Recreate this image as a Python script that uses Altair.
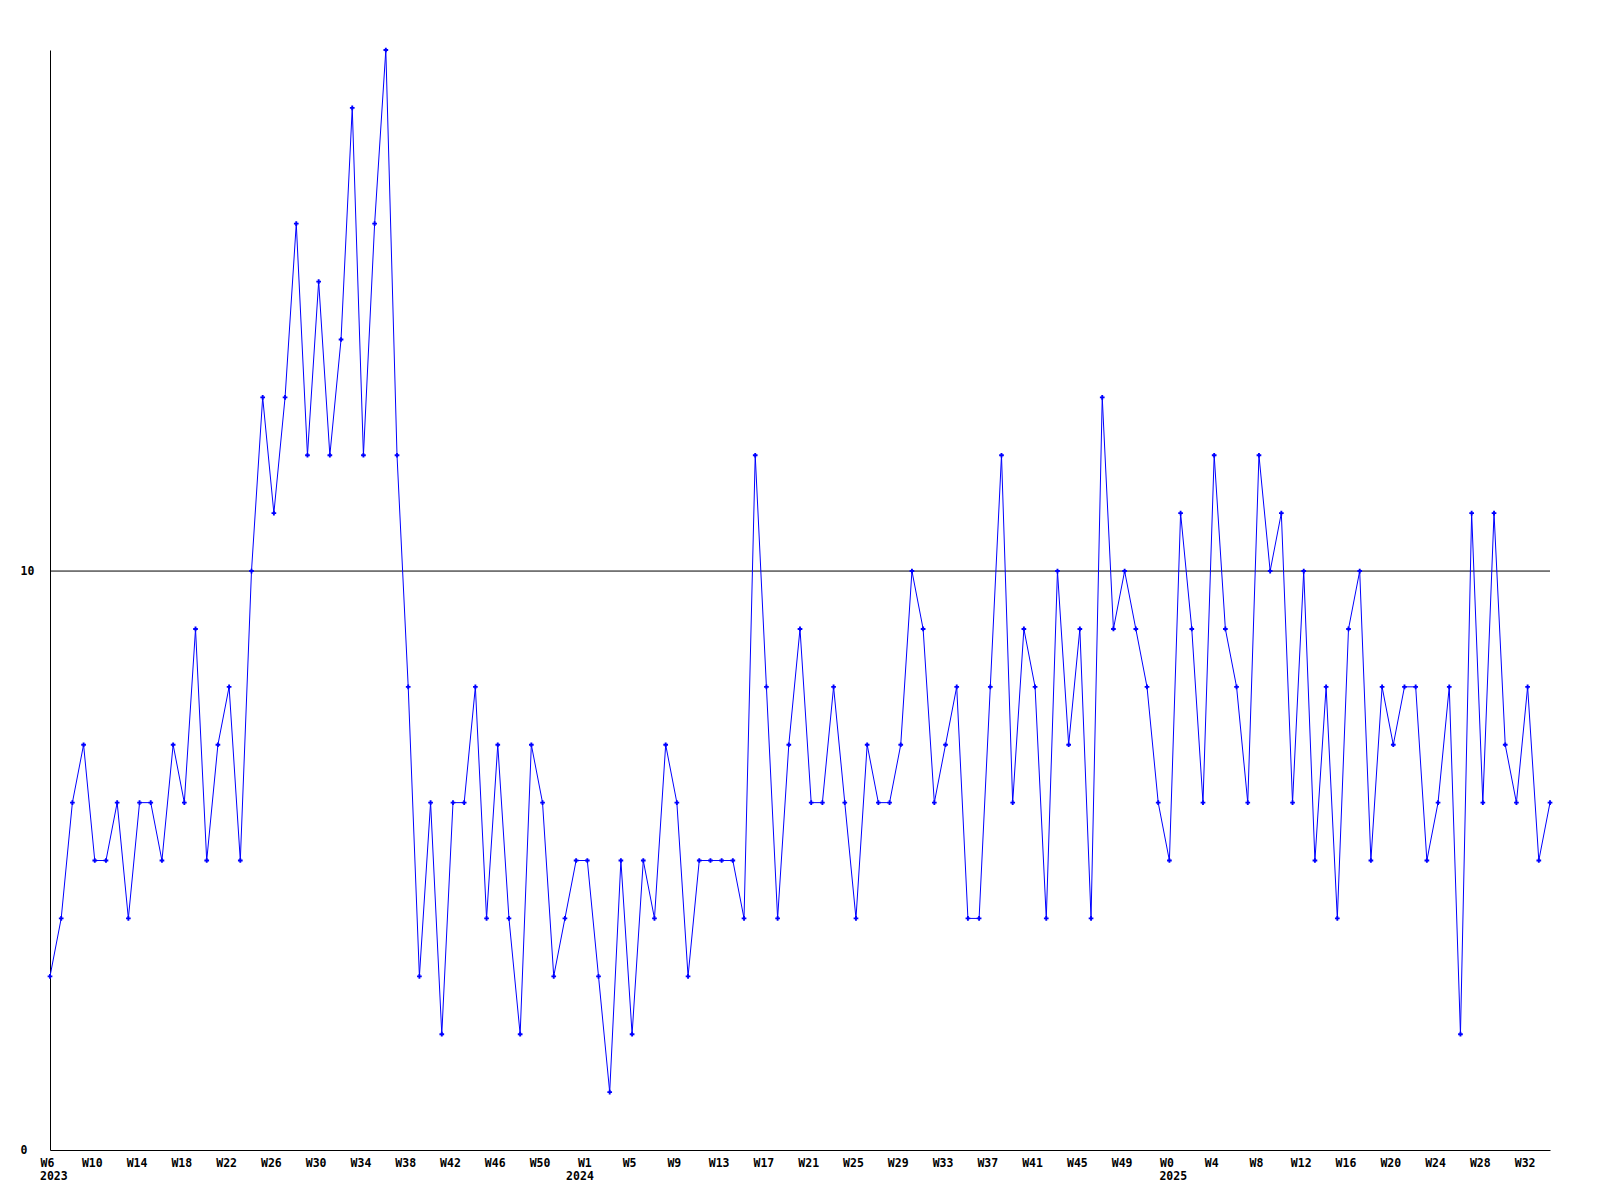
import json
import altair as alt
import pandas as pd

# Weekly counts, 2023-W6 .. 2025-W34
values = [3, 4, 6, 7, 5, 5, 6, 4, 6, 6, 5, 7, 6, 9, 5, 7, 8, 5, 10,
          13, 11, 13, 16, 12, 15, 12, 14, 18, 12, 16, 19, 12, 8, 3, 6, 2,
          6, 6, 8, 4, 7, 4, 2, 7, 6, 3, 4, 5, 5, 3, 1, 5, 2, 5, 4, 7, 6,
          3, 5, 5, 5, 5, 4, 12, 8, 4, 7, 9, 6, 6, 8, 6, 4, 7, 6, 6, 7, 10,
          9, 6, 7, 8, 4, 4, 8, 12, 6, 9, 8, 4, 10, 7, 9, 4, 13, 9, 10, 9,
          8, 6, 5, 11, 9, 6, 12, 9, 8, 6, 12, 10, 11, 6, 10, 5, 8, 4, 9,
          10, 5, 8, 7, 8, 8, 5, 6, 8, 2, 11, 6, 11, 7, 6, 8, 5, 6]

week_labels = ["W6", "W10", "W14", "W18", "W22", "W26", "W30", "W34", "W38",
               "W42", "W46", "W50", "W1", "W5", "W9", "W13", "W17", "W21",
               "W25", "W29", "W33", "W37", "W41", "W45", "W49", "W0", "W4",
               "W8", "W12", "W16", "W20", "W24", "W28", "W32"]
label_step = 4

year_labels = ["2023", "2024", "2025"]
year_index = [0, 47, 100]

y_ticks = [0, 10]
ref_value = [10]

df = pd.DataFrame({"i": list(range(len(values))), "v": values})
years = pd.DataFrame({"i": year_index, "t": year_labels})
ref = pd.DataFrame({"v": ref_value})

n = len(values) - 1
xscale = alt.Scale(domain=[0, n], nice=False, zero=False)
yscale = alt.Scale(domain=[0, 19], nice=False)

W, H = 1500, 1100
FONT = "DejaVu Sans Mono"

label_expr = json.dumps(week_labels) + f"[round(datum.value/{label_step})]"

x_axis = alt.Axis(values=list(range(0, n + 1, label_step)), labelExpr=label_expr,
                  title=None, ticks=False, grid=False, labelPadding=7,
                  labelAlign="center", labelBaseline="top", labelOffset=-3,
                  labelFlush=False, labelOverlap=False, domainColor="black")
y_axis = alt.Axis(values=y_ticks, format="d", title=None, ticks=False, tickSize=0,
                  grid=False, labelPadding=30, labelAlign="left",
                  labelBaseline="middle", domainColor="black")

line = alt.Chart(df).mark_line(color="#0000ff", strokeWidth=1).encode(
    x=alt.X("i:Q", scale=xscale, axis=x_axis),
    y=alt.Y("v:Q", scale=yscale, axis=y_axis),
)

pts = alt.Chart(df).mark_point(shape="cross", filled=True, size=22,
                               color="#0000ff", opacity=1).encode(
    x=alt.X("i:Q", scale=xscale),
    y=alt.Y("v:Q", scale=yscale),
)

rule = alt.Chart(ref).mark_rule(color="black", strokeWidth=1).encode(
    y=alt.Y("v:Q", scale=yscale),
)

yr = alt.Chart(years).mark_text(align="left", baseline="middle", dx=-10,
                                font=FONT, fontWeight="bold", fontSize=11.5,
                                color="black").encode(
    x=alt.X("i:Q", scale=xscale),
    y=alt.value(H + 27),
    text="t:N",
)

chart = alt.layer(rule, line, pts, yr).properties(
    width=W, height=H,
    autosize=alt.AutoSizeParams(type="none"),
    padding={"left": 42, "top": 42, "right": 40, "bottom": 42},
    background="white",
).configure_view(stroke=None).configure_axis(
    labelFont=FONT, labelFontWeight="bold", labelFontSize=11.5,
    labelColor="black", domainWidth=1,
)

chart.save("out.html", embed_options={"renderer": "svg", "actions": False})
